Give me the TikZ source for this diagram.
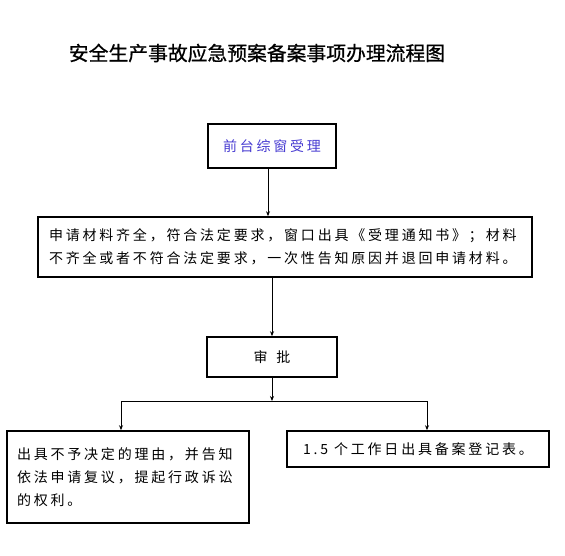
\documentclass[tikz,border=0pt]{standalone}
\usepackage{fontspec}
\setmainfont{Noto Sans CJK SC}
\newfontfamily\cjkbt[FakeBold=0.8]{Noto Sans CJK SC}
\newfontfamily\cjkzw[LetterSpace=20]{Noto Sans CJK SC}
\usetikzlibrary{arrows.meta,positioning}
\definecolor{ShouliBlue}{RGB}{72,60,210}
\newcommand{\zhengwen}{\cjkzw\fontsize{14}{23}\selectfont}
\tikzset{
  kuang/.style={draw=black, line width=1.6pt, fill=white, inner sep=0pt, font=\zhengwen},
  jiantou/.style={-{Stealth[length=5pt,width=4pt]}, line width=0.8pt},
  xian/.style={line width=0.8pt},
  biaoti/.style={font=\cjkbt\fontsize{19.8}{24}\selectfont},
}
\begin{document}
\begin{tikzpicture}[x=1pt,y=-1pt]
  \useasboundingbox (0,0) rectangle (565,555);
  % 标题
  \node[biaoti] (title) at (257,53) {安全生产事故应急预案备案事项办理流程图};

  % 受理与审批
  \node[kuang, minimum width=128pt, minimum height=44pt, text=ShouliBlue] (shouli) at (272,146) {前台综窗受理};
  \node[kuang, minimum width=494pt, minimum height=60pt, text width=472pt, align=left] (cailiao) at (285,247)
    {申请材料齐全，符合法定要求，窗口出具《受理通知书》；材料\\不齐全或者不符合法定要求，一次性告知原因并退回申请材料。};
  \node[kuang, minimum width=130pt, minimum height=40pt] (shenpi) at (272,357) {审\hspace{9pt}批};

  % 结果
  \node[kuang, minimum width=242pt, minimum height=92pt, text width=222pt, align=left] (buyu) at (128,477)
    {出具不予决定的理由，并告知\\依法申请复议，提起行政诉讼\\的权利。};
  \node[kuang, minimum width=262pt, minimum height=36pt] (dengji) at (418,449) {1.5 个工作日出具备案登记表。};

  % 连线
  \draw[jiantou] ([xshift=-4pt]shouli.south) -- ([xshift=-4pt]shouli.south |- cailiao.north);
  \draw[jiantou] (shenpi.north |- cailiao.south) -- (shenpi.north);
  \coordinate (fencha) at (272,401);
  \coordinate (zuo) at (121,401);
  \coordinate (you) at (427,401);
  \draw[jiantou] (shenpi.south) -- (fencha);
  \draw[xian] (zuo) -- (you);
  \draw[jiantou] (zuo) -- (zuo |- buyu.north);
  \draw[jiantou] (you) -- (you |- dengji.north);
\end{tikzpicture}
\end{document}
